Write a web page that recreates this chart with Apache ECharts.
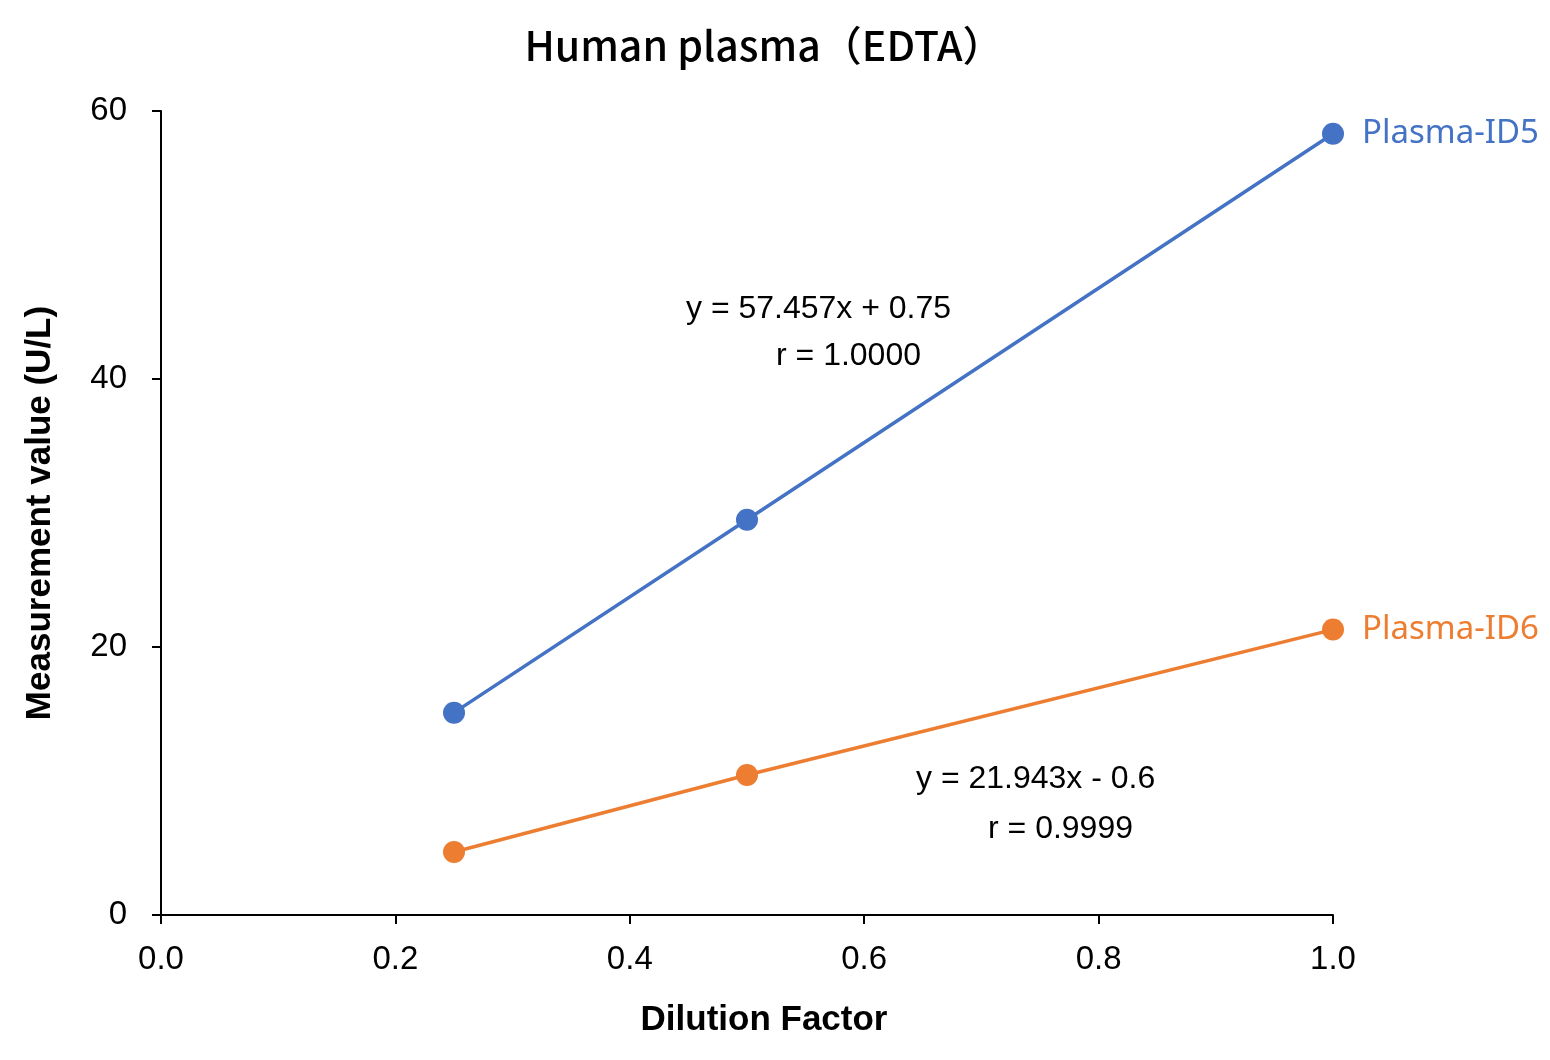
<!DOCTYPE html>
<html lang="en">
<head>
    <meta charset="UTF-8">
    <title>Human plasma (EDTA)</title>
    <script src="https://cdn.jsdelivr.net/npm/echarts@6/dist/echarts.min.js"></script>
</head>
<body style="margin:0">
<div id="main" style="width:1550px; height:1060px"></div>
<script type="text/javascript">
    // data
    var dilution = [0.25, 0.5, 1.0];
    var id5 = [15.1, 29.5, 58.3];
    var id6 = [4.7, 10.45, 21.3];
    var seriesNames = ['Plasma-ID5', 'Plasma-ID6'];
    var eqTexts = [['y = 57.457x + 0.75', 'r = 1.0000'], ['y = 21.943x - 0.6', 'r = 0.9999']];
    var chartTitle = 'Human plasma（EDTA）';

    var blue = '#4472C4', orange = '#ED7D31';
    var myChart = echarts.init(document.getElementById('main'));

    function pairs(xs, ys) {
        var out = [];
        for (var i = 0; i < xs.length; i++) out.push([xs[i], ys[i]]);
        return out;
    }

    function makeSeries(name, ys, color) {
        return {
            name: name,
            type: 'line',
            data: pairs(dilution, ys),
            symbol: 'circle',
            symbolSize: 22,
            itemStyle: { color: color },
            lineStyle: { color: color, width: 3.5 },
            endLabel: {
                show: true,
                formatter: name,
                color: color,
                fontFamily: 'Noto Sans',
                fontSize: 33,
                distance: 29
            },
            animation: false
        };
    }

    var eqFont = '32px "Liberation Sans"';

    myChart.setOption({
        backgroundColor: '#fff',
        grid: { left: 161, right: 217, top: 111, bottom: 145 },
        xAxis: {
            type: 'value',
            min: 0, max: 1, interval: 0.2,
            name: 'Dilution Factor',
            nameLocation: 'middle',
            nameGap: 88,
            nameTextStyle: { fontFamily: 'Liberation Sans', fontSize: 35, fontWeight: 'bold', color: '#000', padding: [0, 0, 0, 34] },
            axisLine: { lineStyle: { color: '#000', width: 2 } },
            axisTick: { show: true, length: 9, lineStyle: { color: '#000', width: 2 } },
            axisLabel: {
                fontFamily: 'Liberation Sans', fontSize: 33, color: '#000', margin: 28,
                formatter: function (v) { return v.toFixed(1); }
            },
            splitLine: { show: false }
        },
        yAxis: {
            type: 'value',
            min: 0, max: 60, interval: 20,
            name: 'Measurement value (U/L)',
            nameLocation: 'middle',
            nameGap: 103,
            nameTextStyle: { fontFamily: 'Liberation Sans', fontSize: 35, fontWeight: 'bold', color: '#000' },
            axisLine: { show: true, lineStyle: { color: '#000', width: 2 } },
            axisTick: { show: true, length: 9, lineStyle: { color: '#000', width: 2 } },
            axisLabel: { fontFamily: 'Liberation Sans', fontSize: 33, color: '#000', margin: 34 },
            splitLine: { show: false }
        },
        series: [makeSeries(seriesNames[0], id5, blue), makeSeries(seriesNames[1], id6, orange)],
        graphic: [
            { type: 'text', x: 764, y: 45, style: { text: chartTitle, font: '500 41px "Noto Sans CJK JP"', fill: '#000', textAlign: 'center', textVerticalAlign: 'middle' } },
            { type: 'text', left: 686, top: 293, style: { text: eqTexts[0][0], font: eqFont, fill: '#000' } },
            { type: 'text', left: 776, top: 340, style: { text: eqTexts[0][1], font: eqFont, fill: '#000' } },
            { type: 'text', left: 916, top: 763, style: { text: eqTexts[1][0], font: eqFont, fill: '#000' } },
            { type: 'text', left: 988, top: 813, style: { text: eqTexts[1][1], font: eqFont, fill: '#000' } }
        ]
    });
</script>
</body>
</html>
